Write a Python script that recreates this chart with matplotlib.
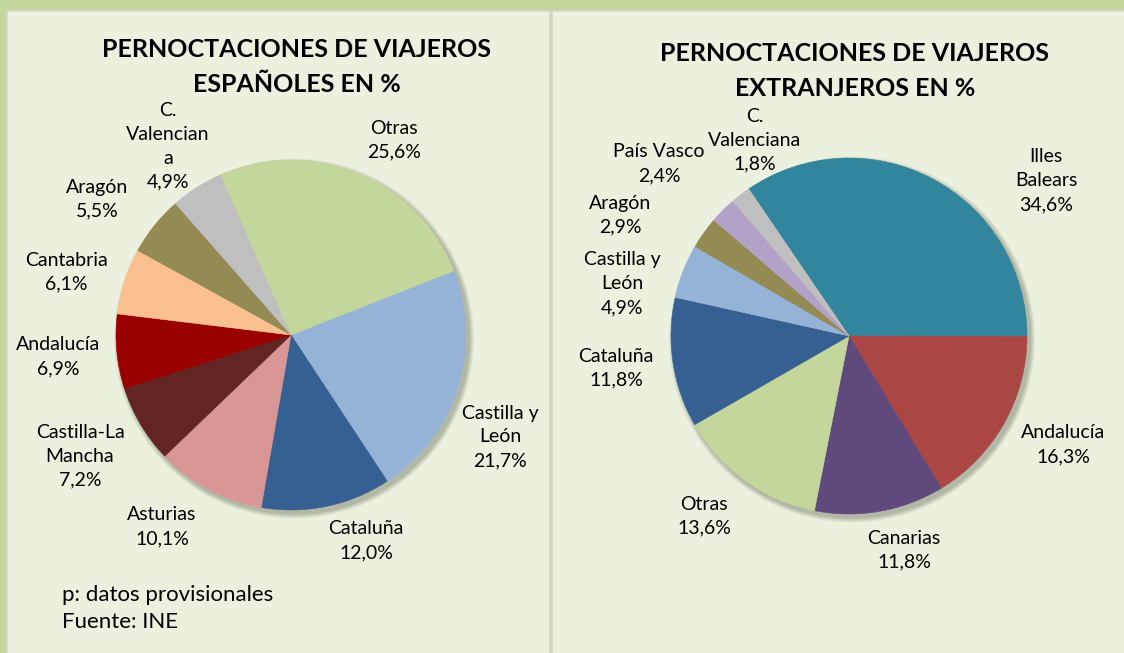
import matplotlib
matplotlib.use("Agg")
import matplotlib.pyplot as plt
from matplotlib.patches import Rectangle, Circle

plt.rcParams['font.family'] = ['Lato', 'DejaVu Sans']

# ---- datos ----
esp_regiones = ['Castilla y León', 'Cataluña', 'Asturias', 'Castilla-La Mancha',
                'Andalucía', 'Cantabria', 'Aragón', 'C. Valenciana', 'Otras']
esp_valores = [21.7, 12.0, 10.1, 7.2, 6.9, 6.1, 5.5, 4.9, 25.6]
esp_etiquetas = ['Castilla y\nLeón', 'Cataluña', 'Asturias', 'Castilla-La\nMancha',
                 'Andalucía', 'Cantabria', 'Aragón', 'C.\nValencian\na', 'Otras']

ext_regiones = ['Illes Balears', 'Andalucía', 'Canarias', 'Otras', 'Cataluña',
                'Castilla y León', 'Aragón', 'País Vasco', 'C. Valenciana']
ext_valores = [34.6, 16.3, 11.8, 13.6, 11.8, 4.9, 2.9, 2.4, 1.8]
ext_etiquetas = ['Illes\nBalears', 'Andalucía', 'Canarias', 'Otras', 'Cataluña',
                 'Castilla y\nLeón', 'Aragón', 'País Vasco', 'C.\nValenciana']

# ---- estilo ----
colores = {
    'Castilla y León': '#95B3D7', 'Cataluña': '#376092', 'Asturias': '#D99694',
    'Castilla-La Mancha': '#632523', 'Cantabria': '#FAC090', 'Aragón': '#948A54',
    'C. Valenciana': '#BFBFBF', 'Otras': '#C3D69B', 'Illes Balears': '#31859C',
    'Canarias': '#604A7B', 'País Vasco': '#B3A2C7',
}
color_and_esp = '#990000'
color_and_ext = '#AA4644'

# posiciones de las etiquetas (pixeles, centro del bloque)
pos_esp = [(500, 437), (366, 541), (162, 527), (80, 456), (58, 357),
           (66, 272), (97, 199), (168, 146), (394, 140)]
pos_ext = [(1046, 181), (1063, 445), (904, 550), (704, 516), (616, 368),
           (622, 284), (620, 215), (659, 164), (755, 140)]

W, H = 1124, 653
fig = plt.figure(figsize=(W / 100, H / 100), dpi=100, facecolor='#C3D69B')


def fx(x):
    return x / W


def fy(y):
    return 1 - y / H


# paneles de fondo
for x0, x1 in [(7, 550), (552, 1126)]:
    fig.add_artist(Rectangle((fx(x0), fy(655)), fx(x1 - x0), (655 - 11) / H,
                             transform=fig.transFigure, facecolor='#EBF1DE',
                             edgecolor='#D4D8CC', linewidth=1.2, zorder=-10))


def dibujar_tarta(cx, cy, r, valores, cols, inicio):
    m = 14
    ax = fig.add_axes([fx(cx - r - m), fy(cy + r + m), (2 * r + 2 * m) / W, (2 * r + 2 * m) / H])
    ax.patch.set_alpha(0)
    lim = (r + m) / r
    # sombra suave
    for k, a in enumerate([0.10, 0.10, 0.12, 0.15]):
        ax.add_patch(Circle((3.0 / r, -3.5 / r), 1 + (4 - k) * 1.2 / r,
                            facecolor='#5E6650', alpha=a, linewidth=0))
    cunas, _ = ax.pie(valores, colors=cols, startangle=inicio, counterclock=False, radius=1)
    for c in cunas:
        c.set_edgecolor(c.get_facecolor())
        c.set_linewidth(0.4)
    ax.set_xlim(-lim, lim)
    ax.set_ylim(-lim, lim)
    ax.set_aspect('equal')
    ax.axis('off')


cols_esp = [color_and_esp if n == 'Andalucía' else colores[n] for n in esp_regiones]
cols_ext = [color_and_ext if n == 'Andalucía' else colores[n] for n in ext_regiones]

dibujar_tarta(291, 335, 175, esp_valores, cols_esp, 21.5)
dibujar_tarta(849, 336, 178, ext_valores, cols_ext, 124.3)

# títulos
fig.text(fx(297), fy(67), 'PERNOCTACIONES DE VIAJEROS\nESPAÑOLES EN %', ha='center',
         va='center', fontsize=18, fontweight='bold', linespacing=1.67)
fig.text(fx(855), fy(71), 'PERNOCTACIONES DE VIAJEROS\nEXTRANJEROS EN %', ha='center',
         va='center', fontsize=18, fontweight='bold', linespacing=1.67)


def pct(v):
    return f"{v:.1f}%".replace('.', ',')


# etiquetas de datos
for etiq, val, (x, y) in zip(esp_etiquetas, esp_valores, pos_esp):
    fig.text(fx(x), fy(y), etiq + '\n' + pct(val), ha='center',
             va='center', fontsize=14, linespacing=1.5)
for etiq, val, (x, y) in zip(ext_etiquetas, ext_valores, pos_ext):
    fig.text(fx(x), fy(y), etiq + '\n' + pct(val), ha='center',
             va='center', fontsize=14, linespacing=1.5)

# nota al pie
fig.text(fx(62), fy(608.5), 'p: datos provisionales\nFuente: INE', ha='left', va='center',
         fontsize=16, linespacing=1.47)

fig.savefig('out.png', dpi=100, facecolor=fig.get_facecolor())
